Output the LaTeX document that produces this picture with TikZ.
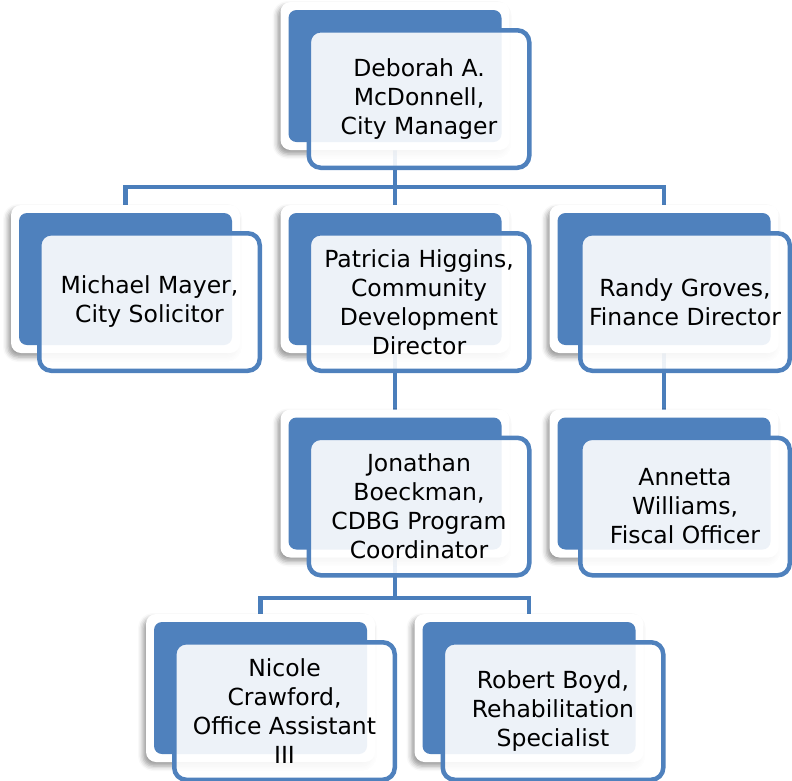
\documentclass[tikz,border=0pt]{standalone}
\usepackage{fontspec}
\setmainfont{DejaVu Sans}
\usepackage{tikz}
\usetikzlibrary{backgrounds,shadows.blur}
\usepackage{xcolor}
\definecolor{azul}{HTML}{4F81BD}
\definecolor{azullinea}{HTML}{4A7EBB}

\begin{document}
\begin{tikzpicture}[x=1pt,y=-1pt,
  marco/.style={fill=white,rounded corners=10pt,inner sep=0pt,outer sep=0pt,
    minimum width=229pt,minimum height=148pt,
    blur shadow={shadow xshift=-3pt,shadow yshift=-4pt,shadow blur radius=5pt,shadow opacity=40}},
  bloque/.style={fill=azul,rounded corners=8pt,inner sep=0pt,outer sep=0pt,
    minimum width=213pt,minimum height=132pt},
  tarjeta/.style={draw=azul,line width=4.5pt,fill=white,fill opacity=0.9,text opacity=1,
    rounded corners=12pt,inner sep=0pt,minimum height=137.5pt,align=center,
    font=\fontsize{23.5}{29}\selectfont},
  enlace/.style={draw=azullinea,line width=4.5pt}]
  % Ventana
  \useasboundingbox (0,0) rectangle (792,780);

  % Cajas: nombre / x / y del marco / desplazamiento / ancho / texto
  \foreach \nom/\x/\y/\dx/\w/\txt in {
    gerente/395/76/24/220.5/{Deborah A.\\McDonnell,\\City Manager},
    abogado/125.5/279/24/220.5/{Michael Mayer,\\City Solicitor},
    desarrollo/395/279/24/220.5/{Patricia Higgins,\\Community\\Development\\Director},
    finanzas/664/279/21/209.5/{Randy Groves,\\Finance Director},
    cdbg/395/483.5/24/220.5/{Jonathan\\Boeckman,\\CDBG Program\\Coordinator},
    fiscal/664/483.5/21/209.5/{Annetta\\Williams,\\Fiscal Officer},
    asistente/260.5/688/24/220.5/{Nicole\\Crawford,\\Office Assistant\\III},
    rehab/529/688/24/220.5/{Robert Boyd,\\Rehabilitation\\Specialist}}{
    \node[marco] (\nom-m) at (\x,\y) {};
    \node[bloque] (\nom-b) at (\x,\y) {};
    \node[tarjeta,minimum width=\w pt] (\nom) at (\x+\dx,\y+23) {\txt};
  }

  % Conectores
  \coordinate (bus1) at (395,187);
  \coordinate (bus2) at (395,598);
  \begin{scope}[on background layer]
    \draw[enlace] (gerente-m.south) -- (bus1);
    \draw[enlace] (abogado-m.north) |- (bus1) -| (finanzas-m.north);
    \draw[enlace] (bus1) -- (desarrollo-m.north);
    \draw[enlace] (desarrollo-m.south) -- (cdbg-m.north);
    \draw[enlace] (finanzas-m.south) -- (fiscal-m.north);
    \draw[enlace] (cdbg-m.south) -- (bus2);
    \draw[enlace] (asistente-m.north) |- (bus2) -| (rehab-m.north);
  \end{scope}
\end{tikzpicture}
\end{document}
